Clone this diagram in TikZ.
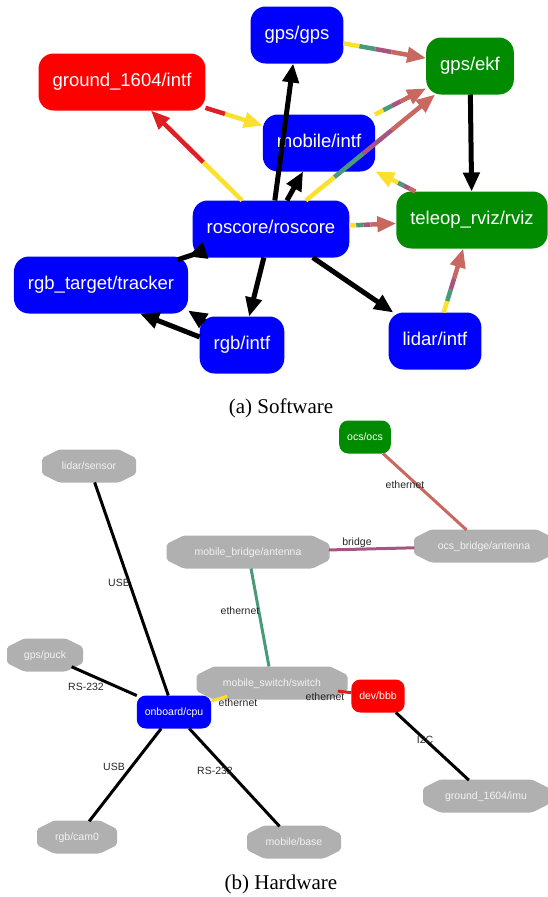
\documentclass[tikz,border=0pt]{standalone}
\usepackage{fontspec}
\newfontfamily\graphfont{Liberation Sans}
\newfontfamily\capfont{Liberation Serif}
\newcommand*{\swfont}{\graphfont\fontsize{18.5}{20}\selectfont}
\newcommand*{\hwfont}{\graphfont\fontsize{10.5}{12}\selectfont}
\newcommand*{\subcapfont}{\capfont\fontsize{21}{24}\selectfont}
\definecolor{swblue}{RGB}{0,0,255}
\definecolor{swgreen}{RGB}{0,139,0}
\definecolor{swred}{RGB}{255,0,0}
\definecolor{hwgray}{RGB}{176,176,176}
\definecolor{edgeyellow}{RGB}{253,224,45}
\definecolor{edgegreen}{RGB}{72,154,120}
\definecolor{edgepurple}{RGB}{166,84,128}
\definecolor{edgesalmon}{RGB}{200,104,96}
\definecolor{edgered}{RGB}{222,32,36}
\usetikzlibrary{arrows.meta}
\usetikzlibrary{calc}
\usetikzlibrary{backgrounds}
\usetikzlibrary{shapes.geometric}
\tikzstyle{base}=[x=1pt, y=-1pt, inner sep=0pt, outer sep=0pt]
\tikzstyle{swnode}=[rounded corners=15pt, minimum height=57pt, inner xsep=14pt, text=white, font=\swfont, text height=11pt, text depth=2pt]
\tikzstyle{hwbox}=[rounded corners=9pt, minimum height=33pt, inner xsep=8pt, text=white, font=\hwfont, text height=7.5pt, text depth=0pt]
\tikzstyle{hwoct}=[ellipse, minimum height=33pt, text=white!95!black, font=\hwfont, text height=7.5pt, text depth=0pt]
\tikzstyle{lbl}=[font=\hwfont, text=black!85]
\tikzstyle{swarrow}=[line width=5pt, -{Triangle[length=19pt, width=16pt]}]
\tikzstyle{hwline}=[line width=3pt]
\tikzstyle{subcap}=[font=\subcapfont]

\newcommand{\splitedge}[3]{%
    \path (#1) -- (#2) coordinate[pos=0] (es) coordinate[pos=1] (et);
    \coordinate (eh) at ($(et)!19pt!(es)$);
    \foreach \col [count=\i] in {#3} {\xdef\nseg{\i}}
    \foreach \col [count=\i] in {#3} {
        \ifnum\i=\nseg
            \draw[line width=4.5pt, color=\col, -{Triangle[length=19pt, width=15pt]}] ($(es)!{(\i-1)/\nseg}!(eh)$) -- (et);
        \else
            \draw[line width=4.5pt, color=\col] ($(es)!{(\i-1)/\nseg}!(eh)$) -- ($(es)!{\i/\nseg}!(eh)$);
        \fi
    }%
}

\begin{document}
\begin{tikzpicture}[base]
    \path [use as bounding box] (0,0) rectangle (547,897);

    \node [swnode, fill=swblue] (gpsgps) at (297,35) {gps/gps};
    \node [swnode, fill=swgreen] (gpsekf) at (470,66) {gps/ekf};
    \node [swnode, fill=swred] (groundintf) at (122,82) {ground\_1604/intf};
    \node [swnode, fill=swblue] (mobileintf) at (319,143) {mobile/intf};
    \node [swnode, fill=swblue] (roscore) at (271,229) {roscore/roscore};
    \node [swnode, fill=swgreen] (teleop) at (472,220) {teleop\_rviz/rviz};
    \node [swnode, fill=swblue] (tracker) at (101,285) {rgb\_target/tracker};
    \node [swnode, fill=swblue] (rgbintf) at (242,345) {rgb/intf};
    \node [swnode, fill=swblue] (lidarintf) at (435,341) {lidar/intf};

    \draw [swarrow] (roscore) -- (gpsgps);
    \draw [swarrow] (roscore) -- (mobileintf);
    \draw [swarrow, shorten <=-16pt] (roscore) -- (tracker);
    \draw [swarrow] (roscore) -- (rgbintf);
    \draw [swarrow] (roscore) -- (lidarintf);
    \draw [swarrow] ([yshift=8pt]rgbintf.west) -- ([xshift=39pt]tracker.south);
    \draw [swarrow] ([xshift=5pt,yshift=-5pt]rgbintf.north west) -- ([yshift=3pt]tracker.south east);
    \draw [swarrow] (gpsekf) -- (teleop);

    \splitedge{gpsgps}{gpsekf}{edgeyellow,edgegreen,edgepurple,edgesalmon}
    \splitedge{groundintf}{mobileintf}{edgered,edgeyellow}
    \splitedge{roscore}{groundintf}{edgeyellow,edgered}
    \splitedge{mobileintf}{gpsekf}{edgeyellow,edgegreen,edgepurple,edgesalmon}
    \splitedge{roscore}{gpsekf}{edgeyellow,edgegreen,edgepurple,edgesalmon}
    \splitedge{teleop}{mobileintf}{edgesalmon,edgepurple,edgegreen,edgeyellow}
    \splitedge{roscore}{teleop}{edgeyellow,edgegreen,edgepurple,edgesalmon}
    \splitedge{lidarintf}{teleop}{edgeyellow,edgegreen,edgepurple,edgesalmon}

    \node [subcap] (capsw) at (281,408) {(a) Software};

    \node [hwbox, fill=swgreen] (ocs) at (365,437) {ocs/ocs};
    \node [hwoct, minimum width=94pt] (lidarsensor) at (89,466) {lidar/sensor};
    \node [hwoct, minimum width=163pt] (bridgeant) at (248,552) {mobile\_bridge/antenna};
    \node [hwoct, minimum width=140pt] (ocsbridge) at (484,546) {ocs\_bridge/antenna};
    \node [hwoct, minimum width=76pt] (gpspuck) at (45,655) {gps/puck};
    \node [hwoct, minimum width=151pt] (mobileswitch) at (272,683) {mobile\_switch/switch};
    \node [hwbox, fill=swblue] (cpu) at (174,712) {onboard/cpu};
    \node [hwbox, fill=swred] (bbb) at (378,696) {dev/bbb};
    \node [hwoct, minimum width=126pt] (groundimu) at (486,796) {ground\_1604/imu};
    \node [hwoct, minimum width=80pt] (rgbcam) at (77,837) {rgb/cam0};
    \node [hwoct, minimum width=94pt] (mobilebase) at (294,842) {mobile/base};

    \begin{pgfonlayer}{background}
        \foreach \n in {lidarsensor, bridgeant, ocsbridge, gpspuck, mobileswitch, groundimu, rgbcam, mobilebase}
            \fill [hwgray, rounded corners=2pt] ($(\n.west)+(0,-8)$) -- ($(\n.west|-\n.north)+(17,0)$) -- ($(\n.east|-\n.north)+(-17,0)$) -- ($(\n.east)+(0,-8)$) -- ($(\n.east)+(0,8)$) -- ($(\n.east|-\n.south)+(-17,0)$) -- ($(\n.west|-\n.south)+(17,0)$) -- ($(\n.west)+(0,8)$) -- cycle;
    \end{pgfonlayer}

    \draw [hwline] (lidarsensor) -- (cpu);
    \draw [hwline, edgesalmon] (ocs) -- (ocsbridge);
    \draw [hwline, edgepurple] (bridgeant) -- (ocsbridge);
    \draw [hwline, edgegreen] (bridgeant) -- (mobileswitch);
    \draw [hwline] (gpspuck) -- (cpu);
    \draw [hwline, edgeyellow] (cpu) -- (mobileswitch);
    \draw [hwline, edgered] (mobileswitch) -- (bbb);
    \draw [hwline] (bbb) -- (groundimu);
    \draw [hwline] (cpu) -- (rgbcam);
    \draw [hwline] (cpu) -- (mobilebase);

    \node [lbl] (lblocs) at (405,485) {ethernet};
    \node [lbl] (lblbridge) at (357,543) {bridge};
    \node [lbl] (lblant) at (240,611) {ethernet};
    \node [lbl] (lbllidar) at (119,583) {USB};
    \node [lbl] (lblgps) at (86,687) {RS-232};
    \node [lbl] (lblswitch) at (238,703) {ethernet};
    \node [lbl] (lblbbb) at (325,697) {ethernet};
    \node [lbl] (lblcam) at (114,767) {USB};
    \node [lbl] (lblbase) at (215,771) {RS-232};
    \node [lbl] (lblimu) at (425,740) {I2C};

    \node [subcap] (caphw) at (281,884) {(b) Hardware};
\end{tikzpicture}
\end{document}
